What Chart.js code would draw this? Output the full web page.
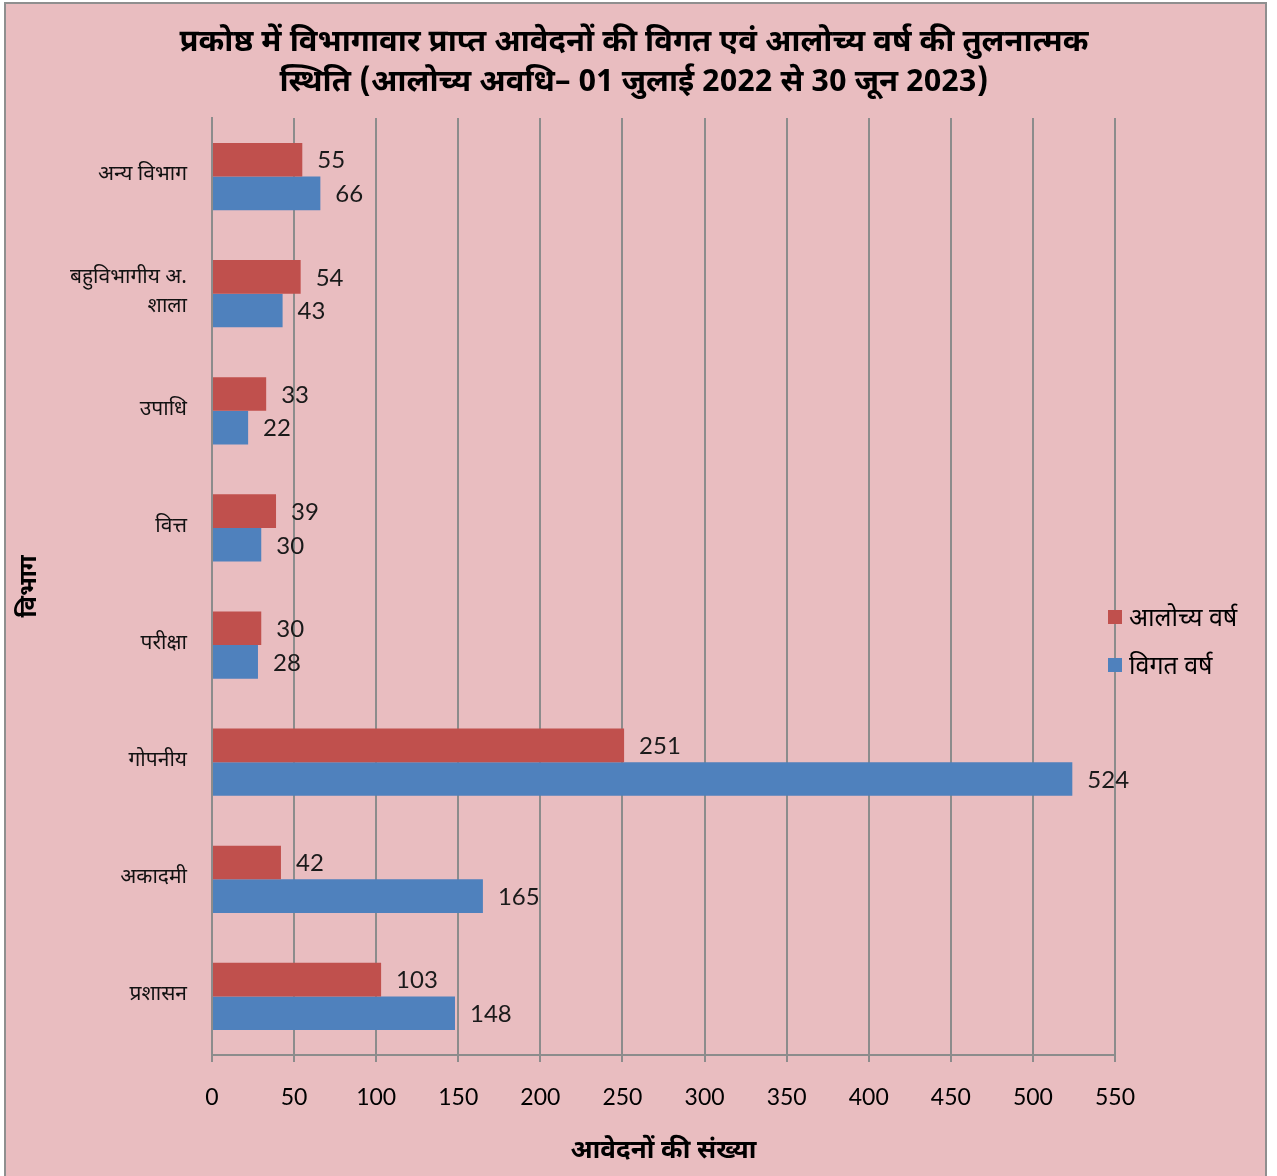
<!DOCTYPE html>
<html>
<head>
<meta charset="utf-8">
<script src="https://cdn.jsdelivr.net/npm/chart.js@4.4.0/dist/chart.umd.min.js"></script>
<style>
  html, body { margin: 0; padding: 0; background: #ffffff; }
  #wrap { width: 1277px; height: 1176px; position: relative; }
</style>
</head>
<body>
<div id="wrap"><canvas id="myChart" width="1277" height="1176"></canvas></div>
<script>
// data, top to bottom as drawn
var categories = ["अन्य विभाग", ["बहुविभागीय अ.", "शाला"], "उपाधि", "वित्त", "परीक्षा", "गोपनीय", "अकादमी", "प्रशासन"];
var currentYear = [55, 54, 33, 39, 30, 251, 42, 103];   // आलोच्य वर्ष
var previousYear = [66, 43, 22, 30, 28, 524, 165, 148]; // विगत वर्ष
var seriesNames = ["आलोच्य वर्ष", "विगत वर्ष"];
var xTicks = [0, 50, 100, 150, 200, 250, 300, 350, 400, 450, 500, 550];
var titleLines = ["प्रकोष्ठ में विभागावार प्राप्त आवेदनों की विगत एवं आलोच्य वर्ष की तुलनात्मक", "स्थिति (आलोच्य अवधि– 01 जुलाई 2022 से 30 जून 2023)"];

var hindi = "'Noto Sans Devanagari', 'Lohit Devanagari', Mangal, 'Noto Sans', sans-serif";
var numFont = "Lato, 'Open Sans', sans-serif";

var frame = {
    id: "frame",
    beforeDraw: function (chart) {
        var ctx = chart.ctx;
        ctx.save();
        ctx.fillStyle = "#e9bdc0";
        ctx.fillRect(5, 3, 1261, 1180);
        ctx.strokeStyle = "#8f8f8f";
        ctx.lineWidth = 2;
        ctx.strokeRect(5, 3, 1261, 1180);
        ctx.restore();
    }
};

// title drawn centred over the page (Excel places it off the plot centre)
var bigTitle = {
    id: "bigTitle",
    afterDraw: function (chart) {
        var ctx = chart.ctx;
        ctx.save();
        ctx.font = "bold 31px " + hindi;
        ctx.fillStyle = "#000";
        ctx.textAlign = "center";
        ctx.textBaseline = "middle";
        titleLines.forEach(function (t, i) {
            ctx.fillText(t, 634, 45 + i * 40);
        });
        ctx.restore();
    }
};

var valueLabels = {
    id: "valueLabels",
    afterDatasetsDraw: function (chart) {
        var ctx = chart.ctx;
        ctx.save();
        ctx.font = "24px " + numFont;
        ctx.fillStyle = "#1a1a1a";
        ctx.textAlign = "left";
        ctx.textBaseline = "middle";
        chart.data.datasets.forEach(function (ds, i) {
            chart.getDatasetMeta(i).data.forEach(function (bar, j) {
                ctx.fillText(String(ds.data[j]), bar.x + 15, bar.y + 1);
            });
        });
        ctx.restore();
    }
};

var sideLegend = {
    id: "sideLegend",
    afterDraw: function (chart) {
        var ctx = chart.ctx;
        ctx.save();
        ctx.font = "25px " + hindi;
        ctx.textAlign = "left";
        ctx.textBaseline = "middle";
        chart.data.datasets.forEach(function (ds, i) {
            var y = 618 + i * 48;
            ctx.fillStyle = ds.backgroundColor;
            ctx.fillRect(1108, y - 8, 14, 14);
            ctx.fillStyle = "#000";
            ctx.fillText(ds.label, 1129, y + 3);
        });
        ctx.restore();
    }
};

var ctx = document.getElementById("myChart").getContext("2d");
var myBarChart = new Chart(ctx, {
    type: "bar",
    data: {
        labels: categories,
        datasets: [
            { label: seriesNames[0], data: currentYear, backgroundColor: "#c0504d" },
            { label: seriesNames[1], data: previousYear, backgroundColor: "#4f81bd" }
        ]
    },
    options: {
        indexAxis: "y",
        responsive: false,
        animation: false,
        categoryPercentage: 0.575,
        barPercentage: 1.0,
        layout: { padding: { left: 0, right: 162, top: 118, bottom: 0 } },
        plugins: {
            legend: { display: false },
            tooltip: { enabled: false },
            title: { display: false }
        },
        scales: {
            x: {
                min: 0,
                max: 550,
                afterBuildTicks: function (scale) {
                    scale.ticks = xTicks.map(function (v) { return { value: v }; });
                },
                afterFit: function (scale) { scale.height = 121; },
                grid: { color: "#8c8c8c", lineWidth: 2, tickLength: 7, drawTicks: true },
                border: { display: true, color: "#8c8c8c", width: 2 },
                ticks: { color: "#000", font: { family: numFont, size: 23 }, padding: 22, maxRotation: 0 },
                title: {
                    display: true,
                    text: "आवेदनों की संख्या",
                    color: "#000",
                    font: { family: hindi, size: 26, weight: "bold" },
                    padding: { top: 0, bottom: 7 }
                }
            },
            y: {
                afterFit: function (scale) { scale.width = 212; },
                grid: { display: false },
                border: { display: true, color: "#8c8c8c", width: 2 },
                ticks: { color: "#111", font: { family: hindi, size: 21, lineHeight: 1.4 }, padding: 17 },
                title: {
                    display: true,
                    text: "विभाग",
                    color: "#000",
                    font: { family: hindi, size: 24, weight: "bold" },
                    padding: { top: 17, bottom: 0 }
                }
            }
        }
    },
    plugins: [frame, bigTitle, valueLabels, sideLegend]
});
</script>
</body>
</html>
